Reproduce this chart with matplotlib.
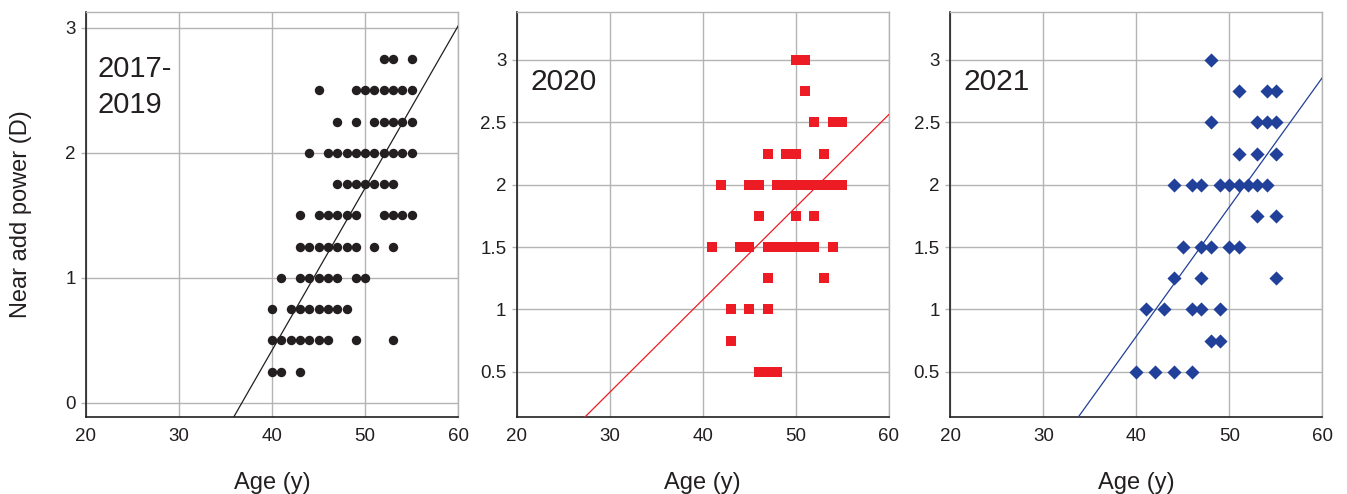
import matplotlib
matplotlib.use("Agg")
import matplotlib.pyplot as plt
import matplotlib.ticker as ticker

# ── Data: near add power (D) -> ages (y) ──────────────────────────────────────
rows_1719 = {
    2.75: [52, 53, 55],
    2.5:  [45, 49, 50, 51, 52, 53, 54, 55],
    2.25: [47, 49, 51, 52, 53, 54, 55],
    2.0:  [44, 46, 47, 48, 49, 50, 51, 52, 53, 54, 55],
    1.75: [47, 48, 49, 50, 51, 52, 53],
    1.5:  [43, 45, 46, 47, 48, 49, 52, 53, 54, 55],
    1.25: [43, 44, 45, 46, 47, 48, 49, 51, 53],
    1.0:  [41, 43, 44, 45, 46, 47, 49, 50],
    0.75: [40, 42, 43, 44, 45, 46, 47, 48],
    0.5:  [40, 41, 42, 43, 44, 45, 46, 49, 53],
    0.25: [40, 41, 43],
}
rows_2020 = {
    3.0:  [50, 51],
    2.75: [51],
    2.5:  [52, 54, 55],
    2.25: [47, 49, 50, 53],
    2.0:  [42, 45, 46, 48, 49, 50, 51, 52, 53, 54, 55],
    1.75: [46, 50, 52],
    1.5:  [41, 44, 45, 47, 48, 49, 50, 51, 52, 54],
    1.25: [47, 53],
    1.0:  [43, 45, 47],
    0.75: [43],
    0.5:  [46, 47, 48],
}
rows_2021 = {
    3.0:  [48],
    2.75: [51, 54, 55],
    2.5:  [48, 53, 54, 55],
    2.25: [51, 53, 55],
    2.0:  [44, 46, 47, 49, 50, 51, 52, 53, 54],
    1.75: [53, 55],
    1.5:  [45, 47, 48, 50, 51],
    1.25: [44, 47, 55],
    1.0:  [41, 43, 46, 47, 49],
    0.75: [48, 49],
    0.5:  [40, 42, 44, 46],
}

# linear trend lines (slope, intercept) as drawn in the reference
fit_1719 = (0.1298, -4.77)
fit_2020 = (0.0742, -1.89)
fit_2021 = (0.1037, -3.363)

x_ticks = [20, 30, 40, 50, 60]
y_ticks_1719 = [0, 1, 2, 3]
y_ticks_other = [0.5, 1, 1.5, 2, 2.5, 3]

# ── Style ─────────────────────────────────────────────────────────────────────
DARK = "#231f20"
RED = "#ed1c24"
BLUE = "#21409a"
GRID = "#b4b4b4"

plt.rcParams.update({
    "font.family": ["Liberation Sans", "DejaVu Sans"],
    "font.size": 13.5,
})


def flatten(rows):
    xs, ys = [], []
    for power, ages in rows.items():
        xs += ages
        ys += [power] * len(ages)
    return xs, ys


def style_axes(ax, yticks, ylim):
    ax.set_xlim(20, 60)
    ax.set_ylim(*ylim)
    ax.set_xticks(x_ticks)
    ax.set_yticks(yticks)
    ax.yaxis.set_major_formatter(ticker.FuncFormatter(lambda v, p: f"{v:g}"))
    ax.grid(True, color=GRID, linewidth=1.0)
    ax.set_axisbelow(True)
    ax.tick_params(axis="x", length=0, pad=8, labelsize=13.5, labelcolor=DARK)
    ax.tick_params(axis="y", length=3.5, width=1.0, color=GRID, pad=4,
                   labelsize=13.5, labelcolor=DARK)
    for side in ("left", "bottom"):
        ax.spines[side].set_color(DARK)
        ax.spines[side].set_linewidth(1.2)
    for side in ("top", "right"):
        ax.spines[side].set_color(GRID)
        ax.spines[side].set_linewidth(1.0)
    ax.set_xlabel("Age (y)", fontsize=17, color=DARK, labelpad=19)


fig = plt.figure(figsize=(13.47, 4.94), dpi=100)
bottom, height = 0.1553, 0.8205
ax1 = fig.add_axes([0.0638, bottom, 0.2764, height])
ax2 = fig.add_axes([0.3836, bottom, 0.2762, height])
ax3 = fig.add_axes([0.7055, bottom, 0.2762, height])

# panel 1: 2017-2019
x, y = flatten(rows_1719)
ax1.scatter(x, y, s=46, marker="o", color=DARK, linewidths=0, zorder=3)
ax1.axline((0, fit_1719[1]), slope=fit_1719[0], color=DARK, linewidth=0.9, zorder=4)
style_axes(ax1, y_ticks_1719, (-0.115, 3.128))
ax1.text(0.03, 0.894, "2017-\n2019", transform=ax1.transAxes, ha="left", va="top",
         fontsize=21, color=DARK, linespacing=1.35)
ax1.set_ylabel("Near add power (D)", fontsize=17, color=DARK, labelpad=24)

# panel 2: 2020
x, y = flatten(rows_2020)
ax2.scatter(x, y, s=60, marker="s", color=RED, linewidths=0, zorder=3)
ax2.axline((0, fit_2020[1]), slope=fit_2020[0], color=RED, linewidth=0.9, zorder=4)
style_axes(ax2, y_ticks_other, (0.136, 3.385))
ax2.text(0.036, 0.862, "2020", transform=ax2.transAxes, ha="left", va="top",
         fontsize=21.5, color=DARK)

# panel 3: 2021
x, y = flatten(rows_2021)
ax3.scatter(x, y, s=52, marker="D", color=BLUE, linewidths=0, zorder=3)
ax3.axline((0, fit_2021[1]), slope=fit_2021[0], color=BLUE, linewidth=0.9, zorder=4)
style_axes(ax3, y_ticks_other, (0.136, 3.385))
ax3.text(0.036, 0.862, "2021", transform=ax3.transAxes, ha="left", va="top",
         fontsize=21.5, color=DARK)

fig.savefig("out.png", dpi=100)
plt.close(fig)
